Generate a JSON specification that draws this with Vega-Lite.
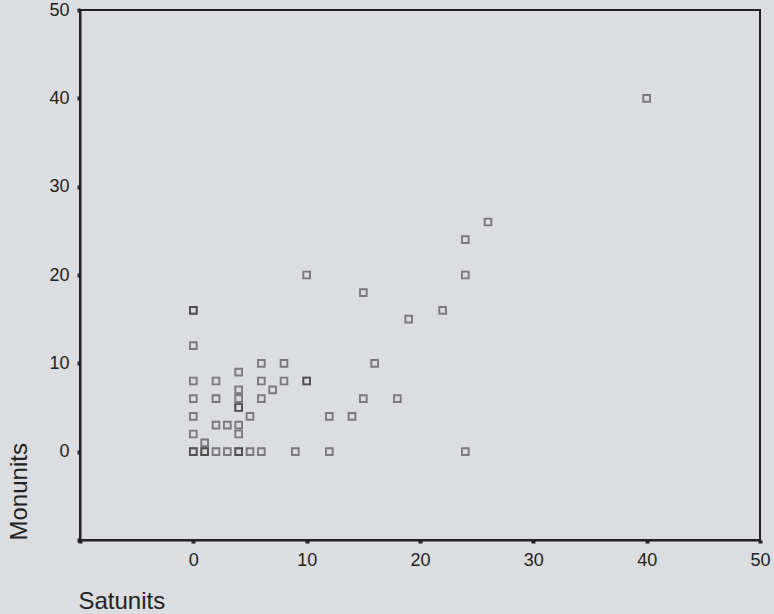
{
  "$schema": "https://vega.github.io/schema/vega-lite/v6.json",
  "width": 680,
  "height": 530,
  "autosize": {"type": "none"},
  "padding": {"left": 80, "top": 10, "right": 14, "bottom": 74},
  "background": "#dcdde0",
  "config": {"view": {"stroke": "#222222", "strokeWidth": 2}, "font": "Liberation Sans"},
  "data": {"values": [
    {"Satunits": 0, "Monunits": 0}, {"Satunits": 0, "Monunits": 0},
    {"Satunits": 1, "Monunits": 0}, {"Satunits": 1, "Monunits": 0},
    {"Satunits": 2, "Monunits": 0}, {"Satunits": 3, "Monunits": 0},
    {"Satunits": 4, "Monunits": 0}, {"Satunits": 4, "Monunits": 0},
    {"Satunits": 5, "Monunits": 0}, {"Satunits": 6, "Monunits": 0},
    {"Satunits": 9, "Monunits": 0}, {"Satunits": 12, "Monunits": 0},
    {"Satunits": 24, "Monunits": 0},
    {"Satunits": 1, "Monunits": 1}, {"Satunits": 0, "Monunits": 2},
    {"Satunits": 4, "Monunits": 2}, {"Satunits": 2, "Monunits": 3},
    {"Satunits": 3, "Monunits": 3}, {"Satunits": 4, "Monunits": 3},
    {"Satunits": 0, "Monunits": 4}, {"Satunits": 5, "Monunits": 4},
    {"Satunits": 12, "Monunits": 4}, {"Satunits": 14, "Monunits": 4},
    {"Satunits": 4, "Monunits": 5}, {"Satunits": 4, "Monunits": 5},
    {"Satunits": 0, "Monunits": 6}, {"Satunits": 2, "Monunits": 6},
    {"Satunits": 4, "Monunits": 6}, {"Satunits": 6, "Monunits": 6},
    {"Satunits": 15, "Monunits": 6}, {"Satunits": 18, "Monunits": 6},
    {"Satunits": 4, "Monunits": 7}, {"Satunits": 7, "Monunits": 7},
    {"Satunits": 0, "Monunits": 8}, {"Satunits": 2, "Monunits": 8},
    {"Satunits": 6, "Monunits": 8}, {"Satunits": 8, "Monunits": 8},
    {"Satunits": 10, "Monunits": 8}, {"Satunits": 10, "Monunits": 8},
    {"Satunits": 4, "Monunits": 9}, {"Satunits": 6, "Monunits": 10},
    {"Satunits": 8, "Monunits": 10}, {"Satunits": 16, "Monunits": 10},
    {"Satunits": 0, "Monunits": 12}, {"Satunits": 19, "Monunits": 15},
    {"Satunits": 0, "Monunits": 16}, {"Satunits": 0, "Monunits": 16},
    {"Satunits": 22, "Monunits": 16}, {"Satunits": 15, "Monunits": 18},
    {"Satunits": 10, "Monunits": 20}, {"Satunits": 24, "Monunits": 20},
    {"Satunits": 24, "Monunits": 24}, {"Satunits": 26, "Monunits": 26},
    {"Satunits": 40, "Monunits": 40}
  ]},
  "mark": {"type": "point", "shape": "square", "filled": false, "size": 45, "stroke": "#2e2e2e", "strokeWidth": 1.9, "strokeOpacity": 0.8},
  "encoding": {
    "x": {
      "field": "Satunits", "type": "quantitative",
      "scale": {"domain": [-10, 50], "nice": false, "zero": false},
      "axis": {
        "values": [-10, 0, 10, 20, 30, 40, 50],
        "labelExpr": "datum.value < 0 ? '' : datum.label",
        "grid": false, "labelFlush": false, "labelOverlap": false,
        "domainColor": "#222222", "domainWidth": 2,
        "tickColor": "#222222", "tickSize": 3, "tickWidth": 4,
        "labelFontSize": 18, "labelColor": "#222222", "labelPadding": 8,
        "title": "Satunits", "titleFontSize": 24, "titleFontWeight": "normal", "titleColor": "#222222",
        "titleAlign": "left", "titleX": -2, "titleY": 68, "titleBaseline": "alphabetic"
      }
    },
    "y": {
      "field": "Monunits", "type": "quantitative",
      "scale": {"domain": [-10, 50], "nice": false, "zero": false},
      "axis": {
        "values": [-10, 0, 10, 20, 30, 40, 50],
        "labelExpr": "datum.value < 0 ? '' : datum.label",
        "grid": false, "labelFlush": false, "labelOverlap": false,
        "domainColor": "#222222", "domainWidth": 2,
        "tickColor": "#222222", "tickSize": 3, "tickWidth": 4,
        "labelFontSize": 18, "labelColor": "#222222", "labelPadding": 8,
        "title": "Monunits", "titleFontSize": 24, "titleFontWeight": "normal", "titleColor": "#222222",
        "titleAngle": -90, "titleAlign": "left", "titleX": -54, "titleY": 530, "titleBaseline": "alphabetic"
      }
    }
  }
}
